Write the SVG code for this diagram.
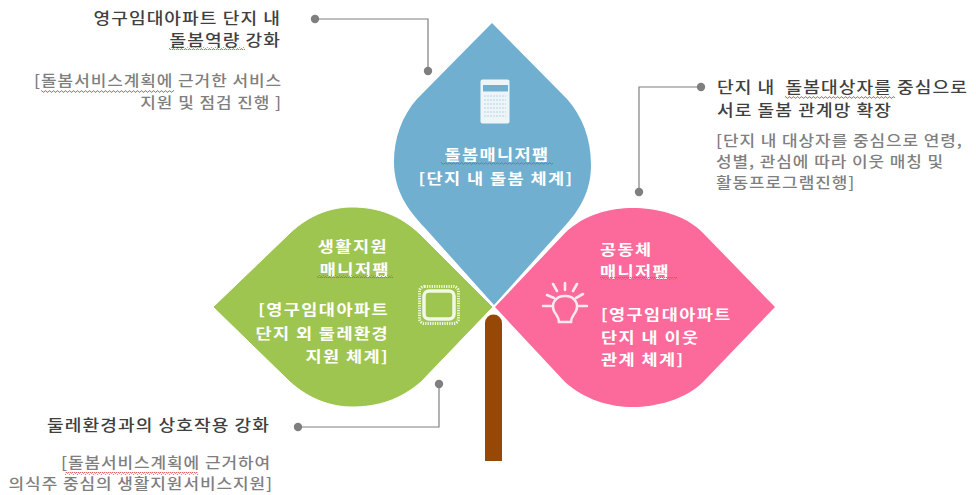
<svg xmlns="http://www.w3.org/2000/svg" width="976" height="495" viewBox="0 0 976 495">
<style>
text{font-family:"Noto Sans CJK KR","Noto Sans",sans-serif;white-space:pre}
.w{fill:#fff;font-size:15px;font-weight:700;letter-spacing:1.2px}
.h{fill:#404040;font-size:15.5px;font-weight:500;letter-spacing:.9px}
.s{fill:#7f7f7f;font-size:14.5px;font-weight:500;letter-spacing:.8px}
.e{text-anchor:end}
.c{text-anchor:middle}
.l{fill:none;stroke:#7f7f7f;stroke-width:1.2}
.d{fill:#7f7f7f}
.i{fill:none;stroke:#fbe9f0;stroke-width:2.6;stroke-linecap:round}
.u{fill:url(#wave)}
</style>
<defs>
<pattern id="wave" width="4" height="3" patternUnits="userSpaceOnUse">
<path d="M0,2.2L1,.8L2,.8L3,2.2L4,2.2" fill="none" stroke="#d9534f" stroke-width=".9"/>
</pattern>
</defs>
<g id="connectors">
<path class="l" d="M315,19H428V71"/>
<circle class="d" cx="315" cy="19" r="4.2"/><circle class="d" cx="428" cy="71" r="4.2"/>
<path class="l" d="M701,87H639V192"/>
<circle class="d" cx="701" cy="87" r="4.2"/><circle class="d" cx="639" cy="192" r="4.2"/>
<path class="l" d="M298,427H439V384"/>
<circle class="d" cx="298" cy="427" r="4.2"/><circle class="d" cx="439" cy="384" r="4.2"/>
</g>
<g id="trunk"><path d="M485,461V323a8.500,8.500 0 0 1 17,0V461Z" fill="#974806"/></g>
<g id="node-blue">
<path d="M492,23L567,99C582,116 591,138 591,165C591,190 581,209 563,228L494,305L425,228C407,209 394,190 394,162C394,138 402,116 417,99Z" fill="#70afd0"/>
<rect x="480.500" y="79.500" width="29" height="44" rx="2" fill="#eef5f9"/>
<rect x="483" y="85" width="25" height="6.500" fill="#70afd0"/>
<path d="M484,96H506M484,100H506M484,104H506M484,108H506M484,112H506M484,116H506" stroke="#c9e0ec" stroke-width="1.5" stroke-dasharray="2 1"/>
<text class="w c" transform="translate(497 160) scale(1.17 1)">돌봄매니저팸</text>
<text class="w c" transform="translate(496 184) scale(1.17 1)">[단지 내 돌봄 체계]</text>
<rect class="u" x="441" y="162" width="112" height="3"/>
</g>
<g id="node-green">
<path d="M213,307L290,233C310,214 332,207 352,207C378,207 400,215 420,234L493,307L421,382C400,400 378,407 352,407C332,407 310,400 290,382Z" fill="#9fc551" stroke="#fff" stroke-width="1"/>
<rect x="424" y="291" width="30" height="28" rx="5" fill="none" stroke="#f3f8e6" stroke-width="3.500"/>
<rect x="419.500" y="286.500" width="39" height="37" rx="5" fill="none" stroke="#f3f8e6" stroke-width="3" stroke-dasharray="1.200 1.200"/>
<text class="w e" transform="translate(388 252) scale(1.17 1)">생활지원</text>
<text class="w e" transform="translate(390 275) scale(1.17 1)">매니저팸</text>
<rect class="u" x="317" y="275" width="76" height="3"/>
<text class="w e" transform="translate(389 315) scale(1.17 1)">[영구임대아파트</text>
<text class="w e" transform="translate(389 339) scale(1.17 1)">단지 외 둘레환경</text>
<text class="w e" transform="translate(389 362) scale(1.17 1)">지원 체계]</text>
</g>
<g id="node-pink">
<path d="M495,307L565,233C585,214 610,208 633,208C655,208 685,214 703,233L775,307L703,382C685,400 655,407 633,407C610,407 585,400 565,382Z" fill="#fb6a9a"/>
<path class="i" d="M574,296C584,296 588,304 585,311C583,315 580,317 580,322H568C568,317 565,315 563,311C560,304 564,296 574,296Z" transform="translate(-9 0)"/>
<path class="i" d="M543,306H551M579,306H587M547,295L554,298M576,298L583,294M553,284L557,291M573,291L577,284M565,283V290"/>
<text class="w" transform="translate(600 255) scale(1.17 1)">공동체</text>
<text class="w" transform="translate(600 277) scale(1.17 1)">매니저팸</text>
<rect class="u" x="600" y="277" width="77" height="3"/>
<text class="w" transform="translate(601 320) scale(1.17 1)">[영구임대아파트</text>
<text class="w" transform="translate(601 343) scale(1.17 1)">단지 내 이웃</text>
<text class="w" transform="translate(601 365) scale(1.17 1)">관계 체계]</text>
</g>
<g id="label-top-left">
<text class="h e" transform="translate(281 24) scale(1.17 1)">영구임대아파트 단지 내</text>
<text class="h e" transform="translate(281 46) scale(1.17 1)">돌봄역량 강화</text>
<rect class="u" x="169" y="47" width="76" height="3"/>
<text class="s e" transform="translate(282 86) scale(1.17 1)">[돌봄서비스계획에 근거한 서비스</text>
<text class="s e" transform="translate(282 108) scale(1.17 1)">지원 및 점검 진행 ]</text>
<rect class="u" x="41" y="90" width="133" height="3"/>
</g>
<g id="label-right">
<text class="h" transform="translate(717 93) scale(1.17 1)">단지 내  돌봄대상자를 중심으로</text>
<text class="h" transform="translate(717 116) scale(1.17 1)">서로 돌봄 관계망 확장</text>
<rect class="u" x="785" y="96" width="110" height="3"/>
<text class="s" transform="translate(716 146) scale(1.17 1)">[단지 내 대상자를 중심으로 연령,</text>
<text class="s" transform="translate(716 167) scale(1.17 1)">성별, 관심에 따라 이웃 매칭 및</text>
<text class="s" transform="translate(716 188) scale(1.17 1)">활동프로그램진행]</text>
</g>
<g id="label-bottom-left">
<text class="h e" transform="translate(270 431) scale(1.17 1)">둘레환경과의 상호작용 강화</text>
<text class="s e" transform="translate(271 468) scale(1.17 1)">[돌봄서비스계획에 근거하여</text>
<text class="s e" transform="translate(273 489) scale(1.17 1)">의식주 중심의 생활지원서비스지원]</text>
<rect class="u" x="65" y="472" width="133" height="3"/>
</g>
</svg>
